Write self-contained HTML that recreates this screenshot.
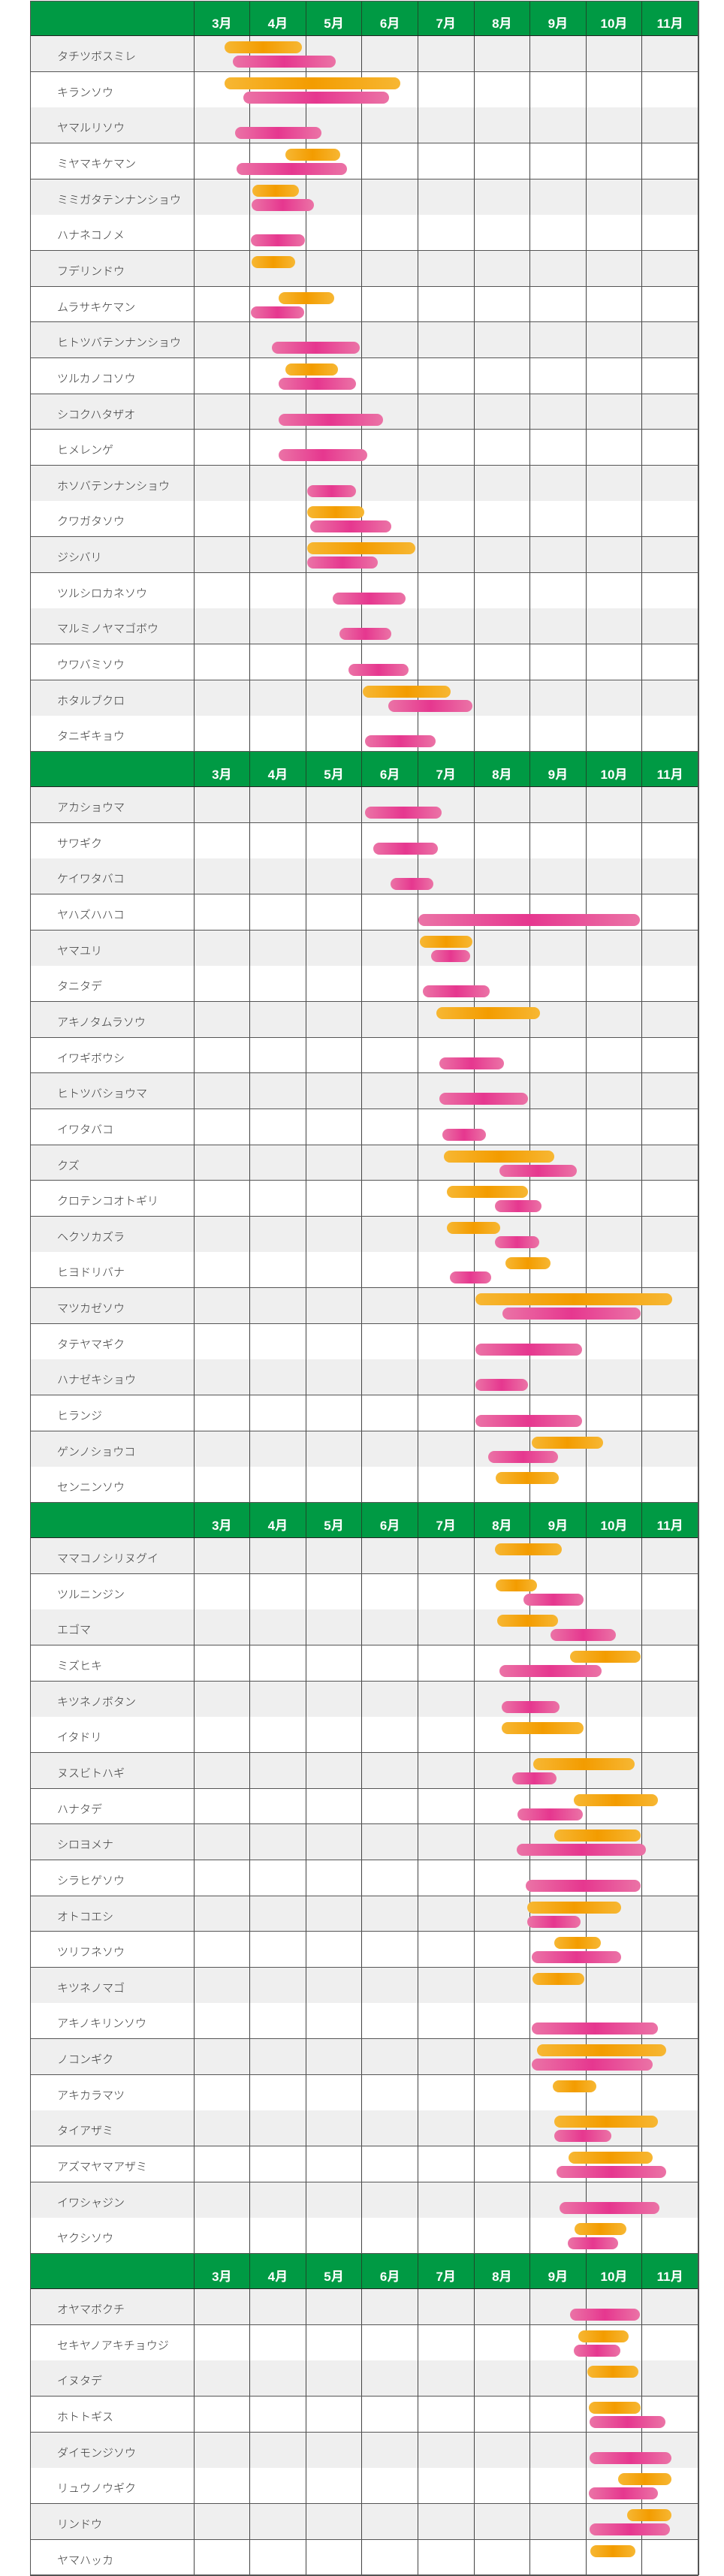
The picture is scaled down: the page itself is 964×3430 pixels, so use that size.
<!DOCTYPE html>
<html><head><meta charset="utf-8">
<style>
html,body{margin:0;padding:0;background:#fff;}
body{width:964px;height:3430px;position:relative;overflow:hidden;font-family:"Liberation Sans","Noto Sans CJK JP",sans-serif;}
.abs{position:absolute;box-sizing:border-box;}
.hdr{background:#009a44;}
.mon{color:#fff;font-weight:bold;font-size:17px;text-align:center;line-height:20px;}
.lbl{color:#333;font-size:15px;line-height:18px;font-family:"Liberation Sans","Noto Sans CJK JP",sans-serif;font-weight:300;}
.or{height:16px;border-radius:8px;background:linear-gradient(90deg,#f7b733 0%,#f39c00 50%,#f7b733 100%);}
.pk{height:16px;border-radius:8px;background:linear-gradient(90deg,#eb73a6 0%,#e6378f 50%,#eb73a6 100%);}
</style></head>
<body>
<div id="chart"></div>
<script>
const names=["タチツボスミレ","キランソウ","ヤマルリソウ","ミヤマキケマン","ミミガタテンナンショウ","ハナネコノメ","フデリンドウ","ムラサキケマン","ヒトツバテンナンショウ","ツルカノコソウ","シコクハタザオ","ヒメレンゲ","ホソバテンナンショウ","クワガタソウ","ジシバリ","ツルシロカネソウ","マルミノヤマゴボウ","ウワバミソウ","ホタルブクロ","タニギキョウ",
"アカショウマ","サワギク","ケイワタバコ","ヤハズハハコ","ヤマユリ","タニタデ","アキノタムラソウ","イワギボウシ","ヒトツバショウマ","イワタバコ","クズ","クロテンコオトギリ","ヘクソカズラ","ヒヨドリバナ","マツカゼソウ","タテヤマギク","ハナゼキショウ","ヒランジ","ゲンノショウコ","センニンソウ",
"ママコノシリヌグイ","ツルニンジン","エゴマ","ミズヒキ","キツネノボタン","イタドリ","ヌスビトハギ","ハナタデ","シロヨメナ","シラヒゲソウ","オトコエシ","ツリフネソウ","キツネノマゴ","アキノキリンソウ","ノコンギク","アキカラマツ","タイアザミ","アズマヤマアザミ","イワシャジン","ヤクシソウ",
"オヤマボクチ","セキヤノアキチョウジ","イヌタデ","ホトトギス","ダイモンジソウ","リュウノウギク","リンドウ","ヤマハッカ"];
const orangeStart=[3.55,3.55,null,4.64,4.04,null,4.03,4.52,null,4.63,null,null,null,5.03,5.03,null,null,null,6.02,null,
null,null,null,null,7.04,null,7.33,null,null,null,7.46,7.52,7.52,8.56,8.03,null,null,null,9.03,8.39,
8.38,8.39,8.41,9.71,null,8.49,9.06,9.78,9.43,null,8.95,9.43,9.04,null,9.13,9.41,9.43,9.69,null,9.80,
null,9.86,10.03,10.05,null,10.58,10.74,10.08];
const orangeEnd=[4.93,6.69,null,5.61,4.88,null,4.81,5.51,null,5.58,null,null,null,6.04,6.95,null,null,null,7.58,null,
null,null,null,null,7.97,null,9.18,null,null,null,9.44,8.97,8.47,9.37,11.54,null,null,null,10.31,9.51,
9.57,9.13,9.50,10.98,null,9.96,10.87,11.28,10.98,null,10.63,10.26,9.97,null,11.43,10.18,11.28,11.19,null,10.72,
null,10.76,10.93,10.98,null,11.52,11.52,10.88];
const pinkStart=[3.70,3.88,3.74,3.76,4.03,4.02,null,4.02,4.40,4.51,4.52,4.52,5.03,5.08,5.03,5.48,5.60,5.76,6.47,6.05,
6.05,6.21,6.51,7.01,7.23,7.09,null,7.39,7.39,7.44,8.45,8.38,8.38,7.57,8.51,8.03,8.03,8.03,8.25,null,
null,8.88,9.37,8.45,8.49,null,8.69,8.78,8.77,8.93,8.95,9.03,null,9.03,9.03,null,9.44,9.48,9.53,9.67,
9.71,9.78,null,10.06,10.06,10.05,10.06,null];
const pinkEnd=[5.53,6.48,5.28,5.73,5.14,4.98,null,4.97,5.96,5.89,6.38,6.10,5.89,6.53,6.28,6.78,6.53,6.83,7.97,7.32,
7.43,7.36,7.28,10.96,7.93,8.28,null,8.53,8.97,8.21,9.83,9.20,9.16,8.31,10.98,9.93,8.97,9.93,9.50,null,
null,9.96,10.53,10.28,9.53,null,9.47,9.94,11.07,10.98,9.90,10.63,null,11.28,11.19,null,10.45,11.43,11.31,10.58,
10.96,10.62,null,11.42,11.52,11.28,11.50,null];
const months=["3月","4月","5月","6月","7月","8月","9月","10月","11月"];
const sectionStarts=[0,20,40,60];

const L=40,R=930,LC=258,MW=74.6,HH=47,RH=47.65;
function xm(m){return LC+(m-3)*MW;}
const root=document.getElementById('chart');
function mk(cls,x,y,w,h){const d=document.createElement('div');d.className='abs '+cls;d.style.left=x+'px';d.style.top=y+'px';d.style.width=w+'px';d.style.height=h+'px';root.appendChild(d);return d;}
let y=1;
for(let i=0;i<names.length;i++){
  if(sectionStarts.indexOf(i)>=0){
    const h=mk('hdr',L,y,R-L,HH);
    
    
    for(let k=0;k<months.length;k++){
      const t=mk('mon',xm(3+k),y+21,MW,20);
      t.textContent=months[k];
      
      
    }
    for(let k=0;k<=months.length;k++){
      const v=mk('',(k==0?LC:xm(3+k))-0.5,y,1,HH);v.style.background='#1f4a2a';
    }
    const hb=mk('',L,y+HH-1,R-L,1.5);hb.style.background='#222';
    y+=HH;
  }
  const row=mk('',L,y,R-L,RH);
  row.style.background=(i%2==0)?'#efefef':'#fff';
  
  
  const lb=mk('lbl',76,y+19,180,18);
  lb.textContent=names[i];
  
  
  for(let k=0;k<=months.length;k++){
    const v=mk('',(k==0?LC:xm(3+k))-0.5,y,1,RH);v.style.background='#444';
  }
  if(orangeStart[i]!=null){
    const b=mk('or',xm(orangeStart[i]),y+7,xm(orangeEnd[i])-xm(orangeStart[i]),16);
    
    
  }
  if(pinkStart[i]!=null){
    const b=mk('pk',xm(pinkStart[i]),y+26,xm(pinkEnd[i])-xm(pinkStart[i]),16);
    
    
  }
  const hl=mk('',L,y+RH-0.75,R-L,1.5);hl.style.background='#555';
  y+=RH;
}
const lb=mk('',L-0.5,1,1.5,y-1);lb.style.background='#555';
const rb=mk('',R-1,1,1.5,y-1);rb.style.background='#555';
const tb=mk('',L,0.5,R-L,1.5);tb.style.background='#555';
</script>
</body></html>
